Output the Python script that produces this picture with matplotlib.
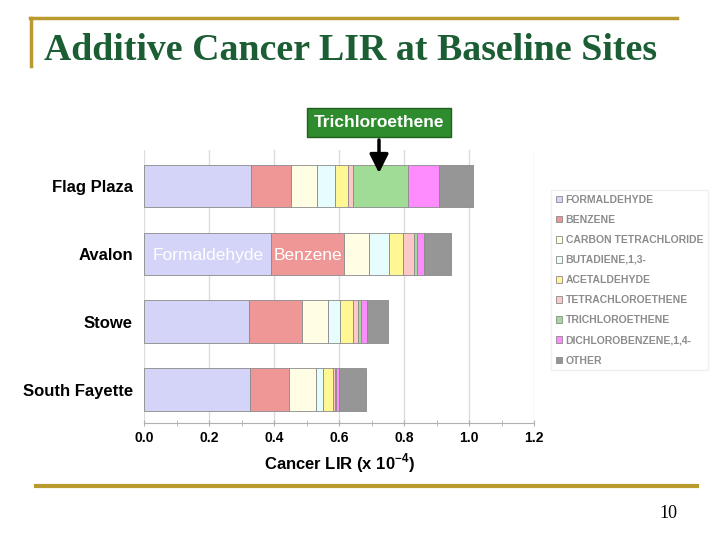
import matplotlib.pyplot as plt
import numpy as np
from matplotlib.patches import Patch

sites = ["Flag Plaza", "Avalon", "Stowe", "South Fayette"]
pollutants = ["FORMALDEHYDE", "BENZENE", "CARBON TETRACHLORIDE", "BUTADIENE,1,3-",
              "ACETALDEHYDE", "TETRACHLOROETHENE", "TRICHLOROETHENE",
              "DICHLOROBENZENE,1,4-", "OTHER"]
colors = ["#d4d4f8", "#ef9797", "#fffde4", "#e6fcfd", "#fff694",
          "#ffc8c8", "#a0dc96", "#ff8cff", "#969696"]

# cancer LIR (x 1e-4), one list per pollutant, in site order
formaldehyde = [0.329, 0.391, 0.323, 0.326]
benzene = [0.123, 0.224, 0.163, 0.120]
carbon_tet = [0.080, 0.077, 0.080, 0.083]
butadiene = [0.056, 0.062, 0.037, 0.022]
acetaldehyde = [0.040, 0.043, 0.040, 0.031]
tetrachloroethene = [0.015, 0.034, 0.015, 0.006]
trichloroethene = [0.169, 0.009, 0.010, 0.003]
dichlorobenzene = [0.096, 0.022, 0.018, 0.009]
other = [0.104, 0.083, 0.065, 0.083]

series = [formaldehyde, benzene, carbon_tet, butadiene, acetaldehyde,
          tetrachloroethene, trichloroethene, dichlorobenzene, other]

fig = plt.figure(figsize=(7.2, 5.4), dpi=100)
ax = fig.add_axes([0.2, 0.2167, 0.5417, 0.5055])

y = np.arange(len(sites))
left = np.zeros(len(sites))
for vals, c in zip(series, colors):
    ax.barh(y, vals, left=left, height=0.63, color=c, edgecolor="#8a8a8a",
            linewidth=0.6, zorder=3)
    left += np.array(vals)

ax.set_xlim(0, 1.2)
ax.set_ylim(3.49, -0.53)
ax.set_xticks(np.arange(0, 1.21, 0.2))
ax.set_xticklabels([f"{v:.1f}" for v in np.arange(0, 1.21, 0.2)],
                   fontsize=10, fontweight="bold", family="Liberation Sans")
ax.set_xticks(np.arange(0, 1.21, 0.1), minor=True)
ax.tick_params(axis="x", which="both", direction="inout", length=5,
               color="#b0b0b0", pad=3)
ax.set_yticks(y)
ax.set_yticklabels(sites, fontsize=12, fontweight="bold", family="Liberation Sans")
ax.tick_params(axis="y", length=0, pad=8)
ax.grid(axis="x", which="major", color="#dcdcdc", linewidth=1, zorder=0)
for s in ["top", "right", "left"]:
    ax.spines[s].set_visible(False)
ax.spines["bottom"].set_color("#b0b0b0")
ax.set_xlabel("Cancer LIR (x 10$^{\\mathregular{-4}}$)", fontsize=12,
              fontweight="bold", family="Liberation Sans", labelpad=5)

# labels inside Avalon bar
ax.text(0.025, 1.02, "Formaldehyde", color="white", fontsize=12.5,
        family="Liberation Sans", va="center", zorder=5)
ax.text(formaldehyde[1] + 0.008, 1.02, "Benzene", color="white", fontsize=12.5,
        family="Liberation Sans", va="center", zorder=5)

# callout for trichloroethene
ax.annotate("Trichloroethene", xy=(0.723, -0.19), xytext=(0.723, -0.94),
            xycoords="data", textcoords="data", ha="center", va="center",
            fontsize=12.5, fontweight="bold", color="white", family="Liberation Sans",
            bbox=dict(boxstyle="square,pad=0.4", fc="#2e8b2e", ec="#1f5f1f", lw=1),
            arrowprops=dict(arrowstyle="-|>,head_width=0.45,head_length=0.9",
                            color="black", lw=2.5, shrinkA=2, shrinkB=0),
            annotation_clip=False, zorder=6)

# legend
handles = [Patch(facecolor=c, edgecolor="#8a8a8a", linewidth=0.6) for c in colors]
leg = fig.legend(handles, pollutants, loc="upper left",
                 bbox_to_anchor=(551 / 720, 1 - 190 / 540), frameon=True,
                 handlelength=0.6, handleheight=0.6,
                 handletextpad=0.35, labelspacing=0.97, borderpad=0.45,
                 borderaxespad=0.0,
                 prop=dict(family="Liberation Sans", weight="bold", size=7.5),
                 fancybox=False, edgecolor="#ececec")
for t in leg.get_texts():
    t.set_color("#8c8c8c")

# slide decoration
fig.text(44 / 720, 1 - 50 / 540, "Additive Cancer LIR at Baseline Sites",
         fontsize=27.3, fontweight="bold", color="#1b5e34",
         family="Liberation Serif", va="center", ha="left")
gold = "#b89a2e"
fig.add_artist(plt.Line2D([30 / 720, 677 / 720], [1 - 18 / 540, 1 - 18 / 540],
                          color=gold, lw=2.5))
fig.add_artist(plt.Line2D([31 / 720, 31 / 720], [1 - 18 / 540, 1 - 66 / 540],
                          color=gold, lw=2.5))
fig.add_artist(plt.Line2D([36 / 720, 697 / 720], [1 - 486 / 540, 1 - 486 / 540],
                          color=gold, lw=3))
fig.text(677 / 720, 1 - 513 / 540, "10", fontsize=13, family="Liberation Serif",
         ha="right", va="center")

fig.savefig("out.png", dpi=100)
